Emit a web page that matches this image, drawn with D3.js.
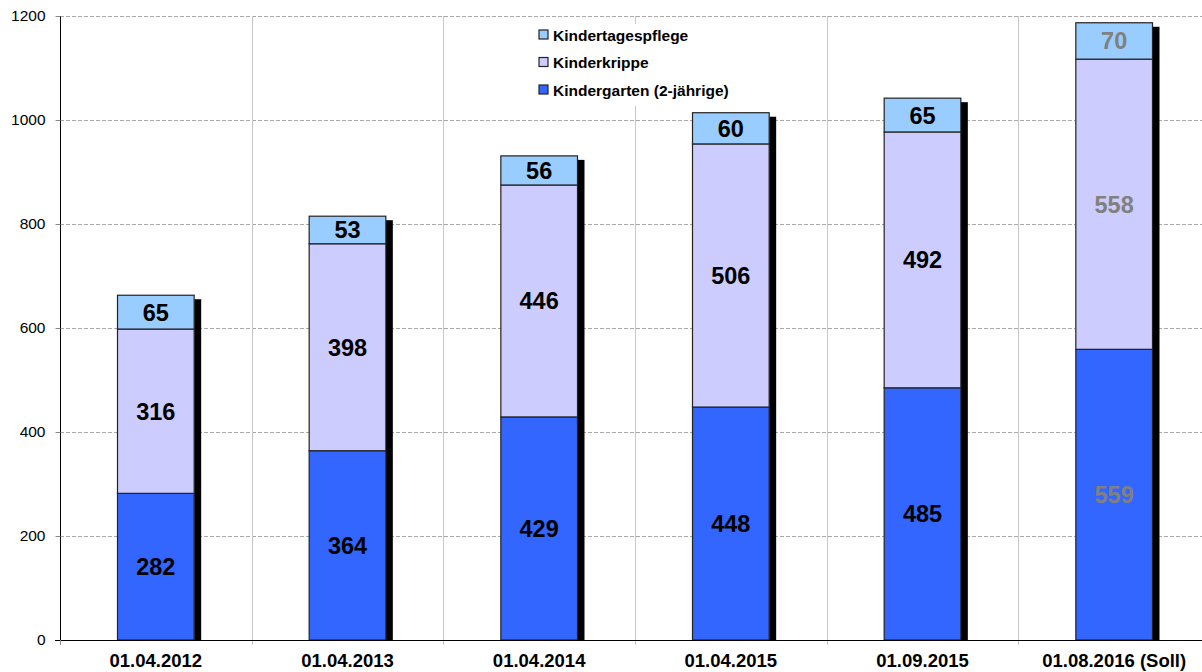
<!DOCTYPE html>
<html>
<head>
<meta charset="utf-8">
<script src="https://cdn.jsdelivr.net/npm/d3@7"></script>
<style>
  body { margin: 0; background: #fff; }
  svg { display: block; font-family: Arial, "Liberation Sans", sans-serif; }
</style>
</head>
<body>
<svg id="chart" width="1202" height="672"></svg>
<script>
// Betreuungsplaetze unter 3 Jahren, gestapelt

const categories = ['01.04.2012', '01.04.2013', '01.04.2014', '01.04.2015', '01.09.2015', '01.08.2016 (Soll)'];
const kindergarten = [282, 364, 429, 448, 485, 559];
const kinderkrippe = [316, 398, 446, 506, 492, 558];
const tagespflege = [65, 53, 56, 60, 65, 70];
const seriesNames = ['Kindergarten (2-jährige)', 'Kinderkrippe', 'Kindertagespflege'];
const seriesColors = ['#3366ff', '#ccccff', '#99ccff'];
const yTicks = [0, 200, 400, 600, 800, 1000, 1200];

const svg = d3.select('#chart');
const plotLeft = 60, plotTop = 16, plotBottom = 640, plotRight = 1210;

const rows = categories.map((c, i) => ({
  cat: c,
  'Kindergarten (2-jährige)': kindergarten[i],
  'Kinderkrippe': kinderkrippe[i],
  'Kindertagespflege': tagespflege[i]
}));
const stacked = d3.stack().keys(seriesNames)(rows);

const xScale = d3.scaleBand().domain(categories).range([plotLeft, plotRight]);
const yScale = d3.scaleLinear().domain([0, 1200]).range([plotBottom, plotTop]);
const barW = xScale.bandwidth() * 0.40;
const shadowW = 7, shadowDrop = 4;

// horizontal grid (dashed)
svg.append('g')
   .selectAll('line')
   .data(yTicks.filter(d => d > 0))
   .join('line')
   .attr('x1', plotLeft).attr('x2', 1202)
   .attr('y1', d => Math.round(yScale(d)) + 0.5)
   .attr('y2', d => Math.round(yScale(d)) + 0.5)
   .attr('stroke', '#a8a8a8')
   .attr('stroke-dasharray', '4,2');

// vertical grid between categories
svg.append('g')
   .selectAll('line')
   .data(categories.slice(1))
   .join('line')
   .attr('x1', d => Math.round(xScale(d)) + 0.5)
   .attr('x2', d => Math.round(xScale(d)) + 0.5)
   .attr('y1', plotTop).attr('y2', plotBottom + 5)
   .attr('stroke', '#c8c8c8');

// small center ticks
svg.append('g')
   .selectAll('line')
   .data(categories)
   .join('line')
   .attr('x1', d => Math.round(xScale(d) + xScale.bandwidth() / 2) + 0.5)
   .attr('x2', d => Math.round(xScale(d) + xScale.bandwidth() / 2) + 0.5)
   .attr('y1', plotBottom - 5).attr('y2', plotBottom)
   .attr('stroke', '#888');

// shadows
svg.append('g')
   .selectAll('rect')
   .data(rows)
   .join('rect')
   .attr('x', d => xScale(d.cat) + (xScale.bandwidth() - barW) / 2 + barW)
   .attr('y', (d, i) => yScale(kindergarten[i] + kinderkrippe[i] + tagespflege[i]) + shadowDrop)
   .attr('width', shadowW)
   .attr('height', (d, i) => plotBottom - yScale(kindergarten[i] + kinderkrippe[i] + tagespflege[i]) - shadowDrop)
   .attr('fill', '#000');

// stacked segments
stacked.forEach((layer, si) => {
  svg.append('g')
     .selectAll('rect')
     .data(layer)
     .join('rect')
     .attr('x', d => xScale(d.data.cat) + (xScale.bandwidth() - barW) / 2)
     .attr('y', d => yScale(d[1]))
     .attr('width', barW)
     .attr('height', d => yScale(d[0]) - yScale(d[1]))
     .attr('fill', seriesColors[si])
     .attr('stroke', '#222')
     .attr('stroke-width', 1.2);

  svg.append('g')
     .selectAll('text')
     .data(layer)
     .join('text')
     .attr('x', d => xScale(d.data.cat) + xScale.bandwidth() / 2)
     .attr('y', d => (yScale(d[0]) + yScale(d[1])) / 2)
     .attr('dy', '0.36em')
     .attr('text-anchor', 'middle')
     .attr('font-size', 23.5)
     .attr('font-weight', 'bold')
     .attr('fill', (d, i) => i === categories.length - 1 ? '#808080' : '#000')
     .text(d => d[1] - d[0]);
});

// axes
let yAxis = d3.axisLeft(yScale).tickValues(yTicks).tickFormat(d3.format('d')).tickSize(5).tickPadding(10);
let gy = svg.append('g')
   .attr('transform', `translate(${plotLeft + 0.5}, 0)`)
   .call(yAxis);
gy.select('.domain').attr('stroke', '#000').attr('d', `M0,${plotTop}V${plotBottom}`);
gy.selectAll('.tick line').attr('stroke', '#888');
gy.selectAll('.tick text').attr('font-size', 15.5).attr('fill', '#000')
  .attr('font-family', 'Arial, "Liberation Sans", sans-serif');

svg.append('line')
   .attr('x1', plotLeft - 5).attr('x2', 1202)
   .attr('y1', plotBottom + 0.5).attr('y2', plotBottom + 0.5)
   .attr('stroke', '#000');
svg.append('line')
   .attr('x1', plotLeft + 0.5).attr('x2', plotLeft + 0.5)
   .attr('y1', plotBottom).attr('y2', plotBottom + 5)
   .attr('stroke', '#888');

svg.append('g')
   .selectAll('text')
   .data(categories)
   .join('text')
   .attr('x', d => xScale(d) + xScale.bandwidth() / 2)
   .attr('y', 667)
   .attr('text-anchor', 'middle')
   .attr('font-size', 18.5)
   .attr('font-weight', 'bold')
   .text(d => d);

// legend
const legend = svg.append('g').attr('transform', 'translate(532, 24)');
legend.append('rect')
   .attr('x', 0).attr('y', 0).attr('width', 215).attr('height', 82)
   .attr('fill', '#fff');
const legendOrder = [2, 1, 0];
legendOrder.forEach((si, k) => {
  const ly = 11 + k * 27.5;
  legend.append('rect')
     .attr('x', 7).attr('y', ly - 5).attr('width', 9).attr('height', 9)
     .attr('fill', seriesColors[si]).attr('stroke', '#222').attr('stroke-width', 1.2);
  legend.append('text')
     .attr('x', 21).attr('y', ly).attr('dy', '0.36em')
     .attr('font-size', 15.5).attr('font-weight', 'bold')
     .text(seriesNames[si]);
});
</script>
</body>
</html>
